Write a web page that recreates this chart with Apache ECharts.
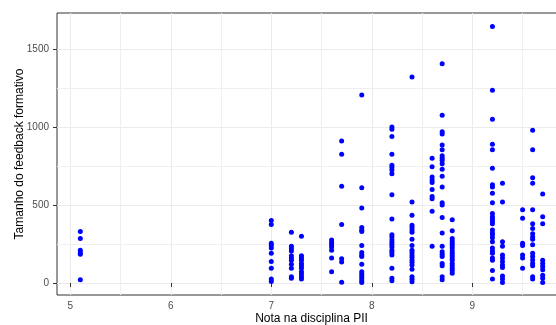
<!DOCTYPE html>
<html>
<head>
<meta charset="utf-8">
<script src="https://cdn.jsdelivr.net/npm/echarts@6/dist/echarts.min.js"></script>
<style>
  html, body { margin: 0; padding: 0; background: #ffffff; }
  #chart { width: 556px; height: 325px; }
</style>
</head>
<body>
<div id="chart"></div>
<script>
// Grades (x) and the feedback sizes recorded for each grade (y)
const notas = [5.1, 7.0, 7.2, 7.3, 7.6, 7.7, 7.9, 8.2, 8.4, 8.6, 8.7, 8.8, 9.2, 9.3, 9.5, 9.6, 9.7];

const tam51 = [330, 285, 210, 195, 185, 20];
const tam70 = [400, 375, 255, 240, 225, 190, 137, 95, 25, 10];
const tam72 = [325, 235, 220, 205, 175, 160, 145, 120, 95, 40, 30];
const tam73 = [300, 175, 160, 145, 125, 110, 95, 72, 58, 40, 25];
const tam76 = [275, 260, 245, 230, 210, 160, 72];
const tam77 = [910, 825, 620, 375, 155, 135, 5];
const tam79 = [1205, 610, 480, 355, 340, 330, 240, 195, 180, 170, 120, 72, 58, 45, 30, 15, 3];
const tam82 = [1000, 985, 940, 825, 755, 740, 725, 700, 565, 410, 310, 295, 275, 260, 245, 230, 210, 195, 180, 95, 30, 15];
const tam84 = [1320, 520, 435, 370, 355, 340, 325, 280, 240, 210, 195, 180, 165, 148, 133, 115, 88, 40, 24, 8];
const tam86 = [800, 745, 680, 660, 645, 600, 555, 540, 460, 235];
const tam87 = [1405, 1075, 970, 955, 885, 855, 815, 800, 785, 765, 730, 685, 615, 515, 500, 420, 320, 235, 200, 185, 170, 125, 110, 40, 20];
const tam88 = [405, 335, 285, 270, 255, 240, 225, 205, 190, 175, 160, 145, 125, 110, 95, 80, 62];
const tam92 = [1645, 1235, 1050, 890, 855, 735, 630, 615, 575, 515, 445, 425, 410, 395, 380, 340, 320, 310, 290, 265, 225, 205, 190, 160, 145, 80, 25];
const tam93 = [640, 520, 265, 235, 180, 160, 137, 115, 100, 45, 25, 3];
const tam95 = [470, 415, 255, 240, 180, 160, 95];
const tam96 = [980, 855, 675, 640, 470, 380, 350, 315, 295, 280, 245, 190, 170, 148, 125, 110, 40, 25];
const tam97 = [570, 425, 380, 145, 125, 105, 85, 50, 30, 3];

const tamanhos = [tam51, tam70, tam72, tam73, tam76, tam77, tam79, tam82, tam84,
                  tam86, tam87, tam88, tam92, tam93, tam95, tam96, tam97];

// Axis ticks (major) and minor grid positions
const xTicks = [5, 6, 7, 8, 9];
const xMinor = [5.5, 6.5, 7.5, 8.5, 9.5];
const yTicks = [0, 500, 1000, 1500];
const yMinor = [250, 750, 1250];

const pontos = [];
notas.forEach((n, i) => tamanhos[i].forEach(v => pontos.push([n, v])));

const gridColor = '#ebebeb';
const fonte = 'Liberation Sans, Arial, sans-serif';
const labelStyle = { color: '#4d4d4d', fontSize: 10, fontFamily: fonte };
const nameStyle = { color: '#000000', fontSize: 12, fontFamily: fonte };

const minorLines = xMinor.map(v => ({ xAxis: v })).concat(yMinor.map(v => ({ yAxis: v })));

const chart = echarts.init(document.getElementById('chart'), null, { renderer: 'canvas' });
chart.setOption({
  animation: false,
  backgroundColor: '#ffffff',
  grid: {
    left: 57, top: 13, right: -10, bottom: 30,
    containLabel: false,
    outerBoundsMode: 'none',
    show: true, borderColor: '#333333', borderWidth: 1, backgroundColor: '#ffffff'
  },
  xAxis: {
    type: 'value',
    min: 4.868, max: 9.932,
    name: 'Nota na disciplina PII',
    nameLocation: 'middle',
    nameGap: 18,
    nameMoveOverlap: false,
    nameTextStyle: nameStyle,
    axisLine: { show: false },
    axisTick: { show: true, length: 4, customValues: xTicks, lineStyle: { color: '#333333', width: 1 } },
    axisLabel: { customValues: xTicks, margin: 6, formatter: v => String(v), ...labelStyle },
    splitLine: { show: true, lineStyle: { color: gridColor, width: 1 } }
  },
  yAxis: {
    type: 'value',
    min: -77, max: 1731,
    name: 'Tamanho do feedback formativo',
    nameLocation: 'middle',
    nameGap: 31,
    nameMoveOverlap: false,
    nameTextStyle: nameStyle,
    axisLine: { show: false },
    axisTick: { show: true, length: 4, customValues: yTicks, lineStyle: { color: '#333333', width: 1 } },
    axisLabel: { customValues: yTicks, margin: 8, formatter: v => String(v), ...labelStyle },
    splitLine: { show: true, lineStyle: { color: gridColor, width: 1 } }
  },
  series: [
    {
      type: 'scatter',
      data: [],
      z: 1,
      silent: true,
      markLine: {
        silent: true,
        z: 1,
        symbol: 'none',
        label: { show: false },
        lineStyle: { color: '#efefef', width: 1, type: 'solid' },
        emphasis: { disabled: true },
        data: minorLines
      }
    },
    {
      type: 'scatter',
      z: 3,
      data: pontos,
      symbol: 'circle',
      symbolSize: 5,
      itemStyle: { color: '#0000ff', opacity: 1 }
    }
  ]
});
</script>
</body>
</html>
